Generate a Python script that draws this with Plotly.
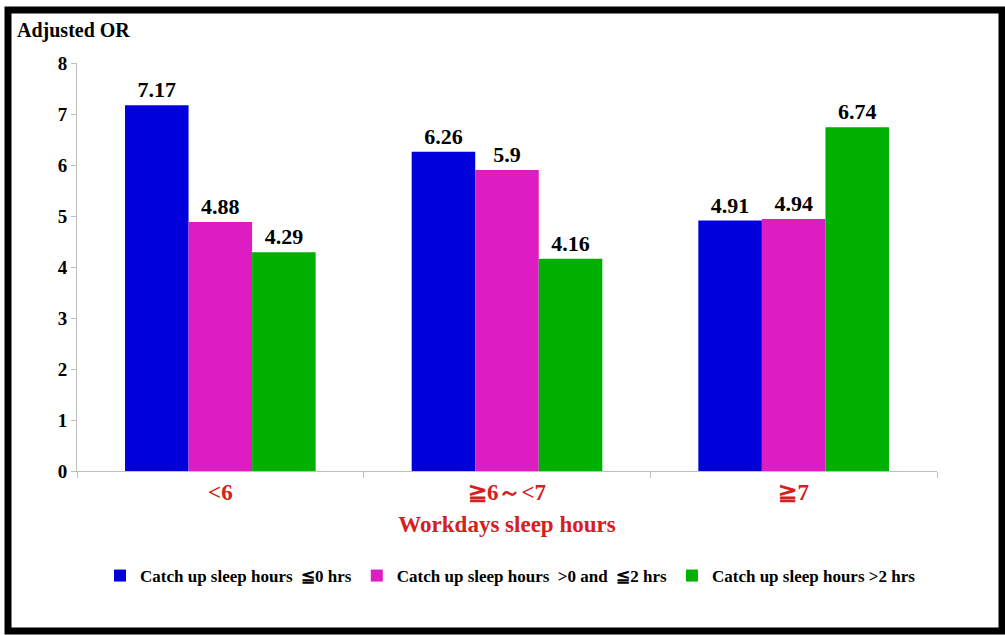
import plotly.graph_objects as go

categories = ["<6", "≧6～<7", "≧7"]
series_names = [
    "Catch up sleep hours  ≦0 hrs",
    "Catch up sleep hours  >0 and  ≦2 hrs",
    "Catch up sleep hours >2 hrs",
]
le0 = [7.17, 6.26, 4.91]
gt0_le2 = [4.88, 5.9, 4.94]
gt2 = [4.29, 4.16, 6.74]
y_ticks = [0, 1, 2, 3, 4, 5, 6, 7, 8]

colors = ["#0000DC", "#DE1CC4", "#00B000"]
values = [le0, gt0_le2, gt2]

FONT = "Liberation Serif"
W, H = 1005, 635
ML, MR, MT, MB = 77, 68, 63, 164
PW, PH = W - ML - MR, H - MT - MB

fig = go.Figure()
for name, vals, col in zip(series_names, values, colors):
    fig.add_trace(go.Bar(
        x=categories, y=vals, name=name,
        marker=dict(color=col, line=dict(width=0)),
        text=[f"{v:g}" for v in vals],
        textposition="outside",
        textfont=dict(family=FONT, size=22, color="black", weight="bold"),
        cliponaxis=False,
    ))

def px_x(p):
    return (p - ML) / PW

def px_y(p):
    return (H - MB - p) / PH

fig.update_layout(
    width=W, height=H,
    margin=dict(l=ML, r=MR, t=MT, b=MB),
    paper_bgcolor="white", plot_bgcolor="white",
    barmode="group", bargap=0.335, bargroupgap=0,
    font=dict(family=FONT, color="black"),
    showlegend=True,
    legend=dict(
        orientation="h", x=px_x(100), y=px_y(576), yanchor="middle", xanchor="left",
        font=dict(family=FONT, size=17, color="black", weight="bold"),
        itemwidth=30, tracegroupgap=0,
    ),
    xaxis=dict(
        showline=True, linecolor="#BFBFBF", linewidth=1,
        ticks="outside", tickson="boundaries", ticklen=6, tickcolor="#BFBFBF",
        tickfont=dict(family=FONT, size=23, color="#D42020", weight="bold"),
        title=dict(text="Workdays sleep hours", standoff=12,
                   font=dict(family=FONT, size=23, color="#D42020", weight="bold")),
    ),
    yaxis=dict(
        range=[0, 8], tickvals=y_ticks, showgrid=False, zeroline=False,
        showline=True, linecolor="#BFBFBF", linewidth=1,
        ticks="outside", ticklen=5, tickcolor="#BFBFBF",
        tickfont=dict(family=FONT, size=19, color="black", weight="bold"),
    ),
    annotations=[dict(
        text="Adjusted OR", xref="paper", yref="paper",
        x=px_x(15), y=px_y(30), xanchor="left", yanchor="middle",
        showarrow=False, font=dict(family=FONT, size=20, color="black", weight="bold"),
    )],
    shapes=[dict(
        type="rect", xref="paper", yref="paper",
        x0=px_x(8), x1=px_x(1002), y0=px_y(631), y1=px_y(10),
        line=dict(color="black", width=7), fillcolor="rgba(0,0,0,0)", layer="below",
    )],
)

fig.write_html("out.html")
